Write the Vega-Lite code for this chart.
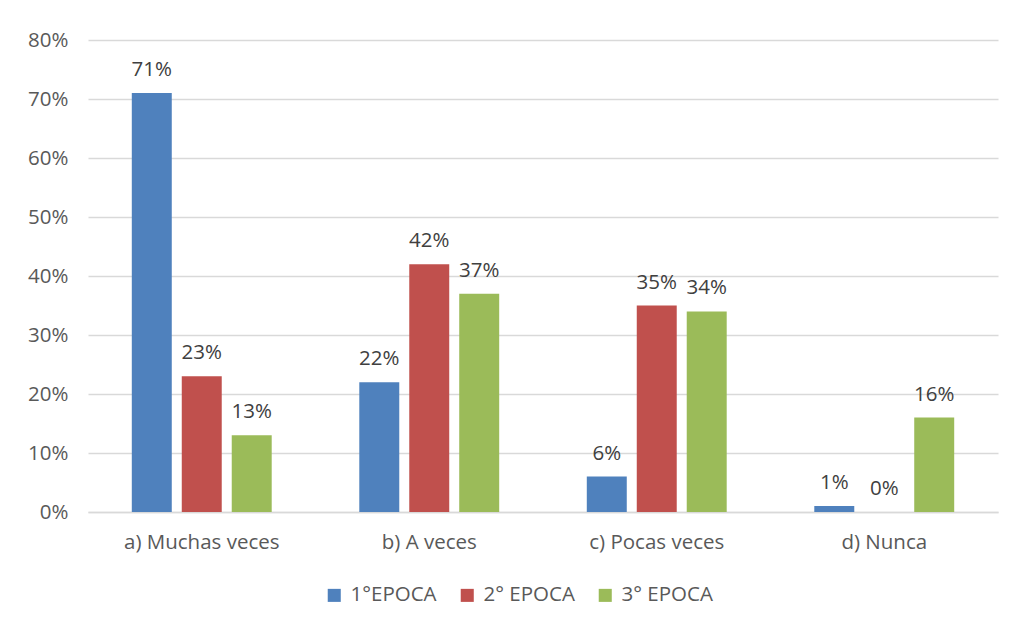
{
  "$schema": "https://vega.github.io/schema/vega-lite/v6.json",
  "autosize": {"type": "none"},
  "width": 910,
  "height": 472,
  "padding": {"left": 88, "top": 40, "right": 14, "bottom": 116},
  "background": "white",
  "config": {
    "font": "Open Sans",
    "view": {"stroke": null},
    "axis": {"labelFont": "Open Sans", "labelColor": "#595959", "labelFontSize": 20.5, "labelOverlap": false}
  },
  "data": {
    "values": [
      {"cat": "a) Muchas veces", "serie": "1°EPOCA", "v": 0.71},
      {"cat": "a) Muchas veces", "serie": "2° EPOCA", "v": 0.23},
      {"cat": "a) Muchas veces", "serie": "3° EPOCA", "v": 0.13},
      {"cat": "b) A veces", "serie": "1°EPOCA", "v": 0.22},
      {"cat": "b) A veces", "serie": "2° EPOCA", "v": 0.42},
      {"cat": "b) A veces", "serie": "3° EPOCA", "v": 0.37},
      {"cat": "c) Pocas veces", "serie": "1°EPOCA", "v": 0.06},
      {"cat": "c) Pocas veces", "serie": "2° EPOCA", "v": 0.35},
      {"cat": "c) Pocas veces", "serie": "3° EPOCA", "v": 0.34},
      {"cat": "d) Nunca", "serie": "1°EPOCA", "v": 0.01},
      {"cat": "d) Nunca", "serie": "2° EPOCA", "v": 0.0},
      {"cat": "d) Nunca", "serie": "3° EPOCA", "v": 0.16}
    ]
  },
  "encoding": {
    "x": {
      "field": "cat", "type": "nominal", "title": null,
      "scale": {"paddingInner": 0.385, "paddingOuter": 0.1925},
      "axis": {"labelAngle": 0, "domainColor": "#d9d9d9", "domainWidth": 1.3, "ticks": false, "labelPadding": 20}
    },
    "xOffset": {"field": "serie", "type": "nominal", "scale": {"paddingInner": 0.2}},
    "y": {
      "field": "v", "type": "quantitative", "title": null,
      "scale": {"domain": [0, 0.8], "nice": false},
      "axis": {"format": ".0%", "values": [0, 0.1, 0.2, 0.3, 0.4, 0.5, 0.6, 0.7, 0.8], "domain": false, "ticks": false, "gridColor": "#d9d9d9", "gridWidth": 1.3, "labelPadding": 20}
    }
  },
  "layer": [
    {
      "mark": {"type": "bar"},
      "encoding": {
        "color": {
          "field": "serie", "type": "nominal", "title": null,
          "scale": {"domain": ["1°EPOCA", "2° EPOCA", "3° EPOCA"], "range": ["#4f81bd", "#c0504d", "#9bbb59"]},
          "legend": {
            "orient": "none", "legendX": 236, "legendY": 545, "direction": "horizontal",
            "symbolType": "square", "symbolSize": 170, "symbolStrokeWidth": 0,
            "labelFont": "Open Sans", "labelFontSize": 20.5, "labelColor": "#595959",
            "columnPadding": 20, "labelOffset": 6
          }
        }
      }
    },
    {
      "mark": {"type": "text", "baseline": "bottom", "dy": -13, "font": "Open Sans", "fontSize": 20.5, "color": "#404040"},
      "encoding": {
        "text": {"field": "v", "type": "quantitative", "format": ".0%"}
      }
    }
  ]
}
